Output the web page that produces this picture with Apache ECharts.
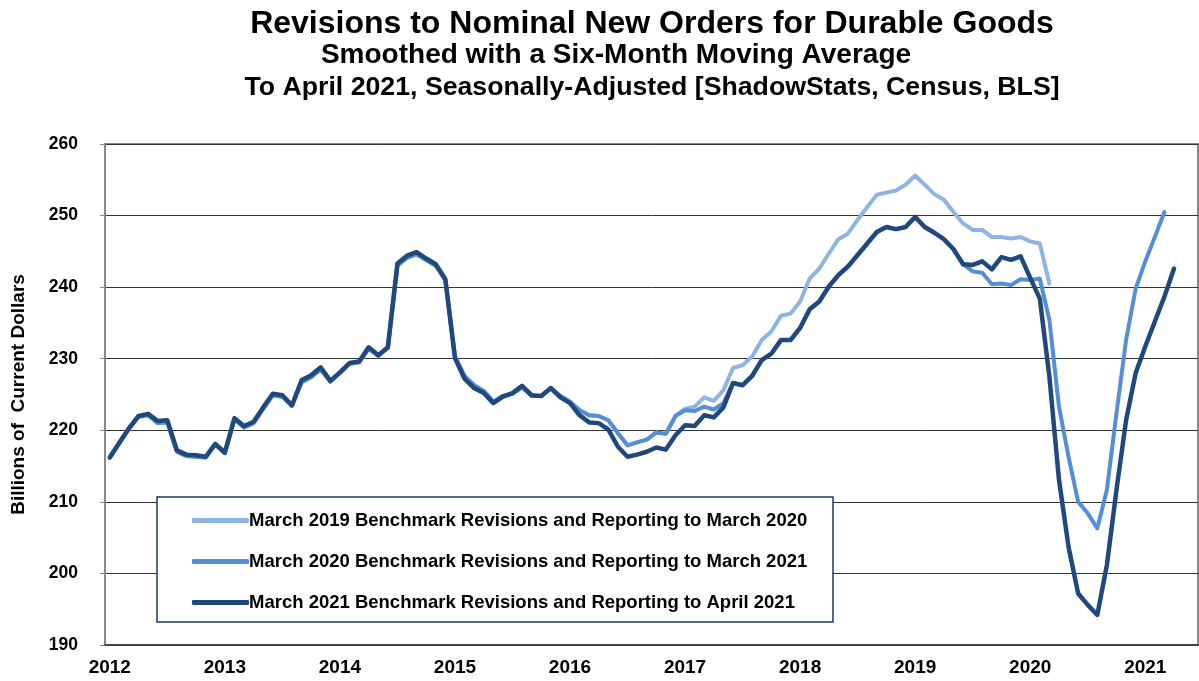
<!DOCTYPE html>
<html>
<head>
<meta charset="utf-8">
<title>Revisions to Nominal New Orders for Durable Goods</title>
<script src="https://cdn.jsdelivr.net/npm/echarts@6/dist/echarts.min.js"></script>
<style>
  html, body { margin: 0; padding: 0; background: #fff; }
  #chart { width: 1199px; height: 681px; }
</style>
</head>
<body>
<div id="chart"></div>
<script>
  // years on the axis, one category per month (Jan 2012 .. Jun 2021)
  const years = [2012, 2013, 2014, 2015, 2016, 2017, 2018, 2019, 2020, 2021];
  const lastYearMonths = 6;

  // March 2019 benchmark, reporting to March 2020
  const bench2019 = [
    216.2, 218.2, 220.2, 221.9, 222.1, 221.0, 221.1, 217.0, 216.4, 216.3, 216.2, 218.0,
    216.8, 221.5, 220.4, 221.0, 223.0, 224.9, 224.7, 223.4, 226.7, 227.4, 228.5, 226.8,
    228.0, 229.3, 229.5, 231.4, 230.4, 231.5, 243.0, 244.1, 244.6, 243.8, 243.0, 241.0,
    230.3, 227.6, 226.3, 225.5, 224.0, 224.8, 225.1, 226.0, 224.8, 224.8, 225.9, 224.8,
    224.0, 222.8, 222.1, 222.0, 221.4, 219.6, 217.9, 218.3, 218.7, 219.7, 219.5, 222.0,
    223.0, 223.3, 224.6, 224.1, 225.6, 228.7, 229.1, 230.3, 232.6, 233.8, 236.0, 236.3,
    238.0, 241.2, 242.6, 244.7, 246.7, 247.5, 249.4, 251.2, 252.9, 253.2, 253.5, 254.3,
    255.6, 254.3, 253.0, 252.2, 250.5, 248.9, 248.0, 248.0, 247.0, 247.0, 246.8, 247.0,
    246.4, 246.1, 240.5
  ];

  // March 2020 benchmark, reporting to March 2021
  const bench2020 = [
    216.2, 218.2, 220.2, 221.9, 222.1, 221.0, 221.1, 217.0, 216.4, 216.3, 216.2, 218.0,
    216.8, 221.5, 220.4, 221.0, 223.0, 224.9, 224.7, 223.4, 226.7, 227.4, 228.5, 226.8,
    228.0, 229.3, 229.5, 231.4, 230.4, 231.5, 243.0, 244.1, 244.6, 243.8, 243.0, 241.0,
    230.3, 227.6, 226.3, 225.5, 224.0, 224.8, 225.1, 226.0, 224.8, 224.8, 225.9, 224.8,
    224.0, 222.8, 222.1, 222.0, 221.4, 219.6, 217.9, 218.3, 218.7, 219.7, 219.5, 222.0,
    222.8, 222.7, 223.3, 222.9, 223.8, 226.6, 226.3, 227.6, 229.8, 230.7, 232.6, 232.6,
    234.3, 236.9, 238.0, 240.1, 241.7, 242.9, 244.5, 246.1, 247.7, 248.4, 248.1, 248.4,
    249.8, 248.4, 247.6, 246.7, 245.3, 243.2, 242.2, 242.0, 240.4, 240.5, 240.3, 241.1,
    241.0, 241.2, 235.4, 223.3, 216.3, 210.0, 208.4, 206.3, 211.7, 222.4, 232.6, 239.8,
    243.6, 247.0, 250.5
  ];

  // March 2021 benchmark, reporting to April 2021
  const bench2021 = [
    216.2, 218.3, 220.3, 222.0, 222.3, 221.3, 221.4, 217.2, 216.6, 216.5, 216.3, 218.1,
    216.9, 221.7, 220.6, 221.2, 223.2, 225.1, 224.9, 223.5, 227.0, 227.7, 228.8, 226.9,
    228.1, 229.4, 229.6, 231.6, 230.5, 231.6, 243.3, 244.4, 244.9, 244.0, 243.2, 241.1,
    230.1, 227.2, 225.9, 225.2, 223.8, 224.7, 225.2, 226.2, 224.9, 224.8, 225.9, 224.6,
    223.8, 222.1, 221.1, 221.0, 220.1, 217.7, 216.3, 216.6, 217.0, 217.6, 217.3, 219.3,
    220.7, 220.6, 222.1, 221.8, 223.2, 226.6, 226.3, 227.6, 229.8, 230.7, 232.6, 232.6,
    234.3, 236.9, 238.0, 240.1, 241.7, 242.9, 244.5, 246.1, 247.7, 248.4, 248.1, 248.4,
    249.8, 248.4, 247.6, 246.7, 245.3, 243.2, 243.1, 243.6, 242.5, 244.2, 243.8, 244.3,
    241.3, 238.4, 227.5, 213.1, 203.7, 197.2, 195.6, 194.2, 201.2, 211.7, 221.4, 228.0,
    231.7, 235.2, 238.7, 242.6
  ];

  const seriesNames = [
    'March 2019 Benchmark Revisions and Reporting to March 2020',
    'March 2020 Benchmark Revisions and Reporting to March 2021',
    'March 2021 Benchmark Revisions and Reporting to April 2021'
  ];
  const seriesColors = ['#8DB4E2', '#558ED5', '#1F497D'];

  let months = [];
  years.forEach(function (y, k) {
    let n = (k === years.length - 1) ? lastYearMonths : 12;
    for (let m = 1; m <= n; m++) {
      months.push(y + '-' + (m < 10 ? '0' + m : m));
    }
  });

  const font = 'Arial, "Liberation Sans", sans-serif';
  let chart = echarts.init(document.getElementById('chart'));

  chart.setOption({
    animation: false,
    title: [
      { text: 'Revisions to Nominal New Orders for Durable Goods', left: 647, top: 3, textAlign: 'center',
        textStyle: { fontFamily: font, fontWeight: 'bold', fontSize: 32, color: '#000' } },
      { text: 'Smoothed with a Six-Month Moving Average', left: 611, top: 36, textAlign: 'center',
        textStyle: { fontFamily: font, fontWeight: 'bold', fontSize: 28, color: '#000' } },
      { text: 'To April 2021, Seasonally-Adjusted [ShadowStats, Census, BLS]', left: 647, top: 69, textAlign: 'center',
        textStyle: { fontFamily: font, fontWeight: 'bold', fontSize: 26.7, color: '#000' } }
    ],
    grid: {
      left: 105, right: 1, top: 144, bottom: 36,
      outerBoundsMode: 'none',
      show: true, borderColor: '#888', borderWidth: 2, backgroundColor: '#fff'
    },
    // legend frame
    graphic: [{
      type: 'rect', z: 3,
      shape: { x: 157, y: 497, width: 676, height: 125 },
      style: { fill: '#fff', stroke: '#1F3864', lineWidth: 1.5 }
    }],
    legend: {
      orient: 'vertical', left: 187, top: 506, z: 5,
      icon: 'roundRect',
      itemWidth: 57, itemHeight: 5, itemGap: 22,
      data: seriesNames,
      textStyle: { fontFamily: font, fontWeight: 'bold', fontSize: 18.5, color: '#000', padding: [0, 0, 0, -5] }
    },
    xAxis: {
      type: 'category',
      data: months,
      boundaryGap: true,
      axisLine: { lineStyle: { color: '#444', width: 2 } },
      axisTick: { interval: 0, length: 6, lineStyle: { color: '#000', width: 1 } },
      axisLabel: {
        interval: function (i) { return i % 12 === 0; },
        formatter: function (v) { return v.slice(0, 4); },
        fontFamily: font, fontWeight: 'bold', fontSize: 19, color: '#000', margin: 13
      },
      splitLine: { show: false }
    },
    yAxis: {
      type: 'value',
      min: 190, max: 260, interval: 10,
      name: 'Billions of  Current Dollars',
      nameLocation: 'middle', nameGap: 77,
      nameTextStyle: { fontFamily: font, fontWeight: 'bold', fontSize: 19, color: '#000' },
      axisLine: { show: true, lineStyle: { color: '#888', width: 2 } },
      axisTick: { show: true, length: 5, lineStyle: { color: '#888' } },
      axisLabel: { fontFamily: font, fontWeight: 'bold', fontSize: 17.5, color: '#000', margin: 27 },
      splitLine: { lineStyle: { color: '#333', width: 1 } }
    },
    series: [bench2019, bench2020, bench2021].map(function (d, k) {
      return {
        name: seriesNames[k], type: 'line', data: d, symbol: 'none', z: 2,
        lineStyle: { color: seriesColors[k], width: k === 2 ? 4.5 : 4, join: 'round', cap: 'round' },
        itemStyle: { color: seriesColors[k] }
      };
    })
  });
</script>
</body>
</html>
